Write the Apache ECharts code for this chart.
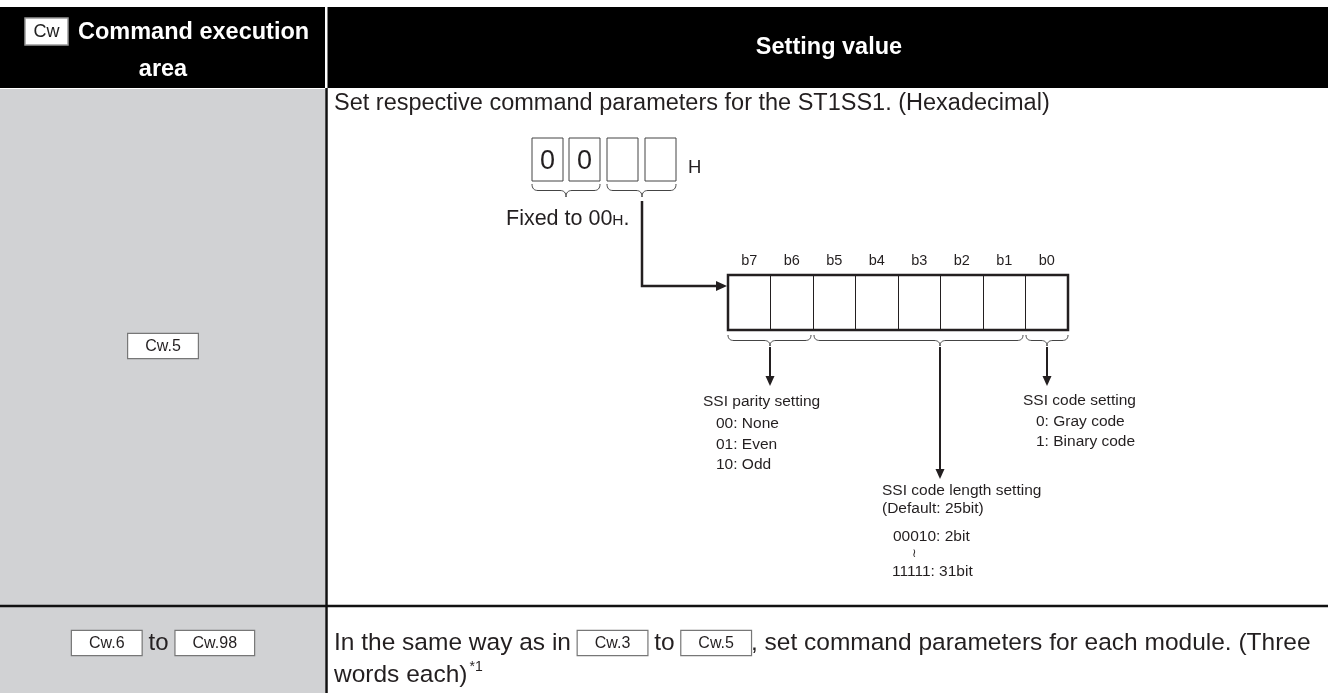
<!DOCTYPE html>
<html>
<head>
<meta charset="utf-8">
<script src="https://cdn.jsdelivr.net/npm/echarts@6/dist/echarts.min.js"></script>
<style>html,body{margin:0;padding:0;background:#fff}#c{width:1328px;height:693px}</style>
</head>
<body>
<div id="c"></div>
<script>
// ---- data ----
const headerLeft = ['Command execution', 'area'];
const headerRight = 'Setting value';
const headerTag = 'Cw';
const row1Label = 'Cw.5';
const row1Text = 'Set respective command parameters for the ST1SS1. (Hexadecimal)';
const hexDigits = ['0', '0', '', ''];
const hexSuffix = 'H';
const fixedNote = ['Fixed to 00', 'H', '.'];
const bitLabels = ['b7', 'b6', 'b5', 'b4', 'b3', 'b2', 'b1', 'b0'];
const parityTitle = 'SSI parity setting';
const parityOptions = ['00: None', '01: Even', '10: Odd'];
const codeTitle = 'SSI code setting';
const codeOptions = ['0: Gray code', '1: Binary code'];
const lengthTitle = ['SSI code length setting', '(Default: 25bit)'];
const lengthOptions = ['00010: 2bit', '\u2240', '11111: 31bit'];
const row2Labels = ['Cw.6', 'Cw.98'];
const row2Refs = ['Cw.3', 'Cw.5'];
const row2Text = ['In the same way as in ', ' to ', ', set command parameters for each module. (Three', 'words each)', '*1'];

// ---- drawing helpers ----
const FF = '"Liberation Sans", Arial, Helvetica, sans-serif';
const INK = '#231f20';
function txt(x, y, text, o) {
  o = o || {};
  return {
    type: 'text', x: x, y: y, z: o.z || 10,
    style: Object.assign({
      text: text, fill: o.fill || INK,
      fontSize: o.size || 15.5, fontFamily: FF, fontWeight: o.weight || 'normal',
      align: o.align || 'left', textAlign: o.align || 'left',
      verticalAlign: 'middle', textVerticalAlign: 'middle'
    }, o.rich ? { rich: o.rich } : {})
  };
}
function line(pts, w, color) {
  return { type: 'polyline', z: 8, shape: { points: pts }, style: { stroke: color || INK, lineWidth: w || 2, fill: null, lineJoin: 'miter' } };
}
function arrowDown(x, y1, y2) {
  return [line([[x, y1], [x, y2 - 8]], 2),
    { type: 'polygon', z: 9, shape: { points: [[x - 4.5, y2 - 10], [x + 4.5, y2 - 10], [x, y2]] }, style: { fill: INK } }];
}
function brace(x1, x2, tip, y, h) {
  const pts = [];
  const m = y + h / 2, r = Math.min(6, (tip - x1) / 3, (x2 - tip) / 3);
  function q(p0, p1, p2) {
    for (let i = 0; i <= 8; i++) {
      const t = i / 8;
      pts.push([(1 - t) * (1 - t) * p0[0] + 2 * (1 - t) * t * p1[0] + t * t * p2[0],
                (1 - t) * (1 - t) * p0[1] + 2 * (1 - t) * t * p1[1] + t * t * p2[1]]);
    }
  }
  q([x1, y], [x1, m], [x1 + r, m]);
  q([tip - r, m], [tip, m], [tip, y + h]);
  q([tip, y + h], [tip, m], [tip + r, m]);
  q([x2 - r, m], [x2, m], [x2, y]);
  return { type: 'polyline', z: 8, shape: { points: pts }, style: { stroke: '#444', lineWidth: 1, fill: null } };
}
const boxRich = {
  b: { fontSize: 16, fontFamily: FF, color: INK, borderColor: '#777', borderWidth: 1.2, backgroundColor: '#fff', padding: [5, 17, 3, 17] },
  t: { fontSize: 24, fontFamily: FF, color: INK, padding: [0, 7, 0, 7] },
  s: { fontSize: 24.5, fontFamily: FF, color: INK },
  sup: { fontSize: 14, fontFamily: FF, color: INK, padding: [0, 0, 16, 2] }
};

const els = [];
// table background
els.push({ type: 'rect', z: 1, shape: { x: 0, y: 7, width: 325, height: 81 }, style: { fill: '#000' } });
els.push({ type: 'rect', z: 1, shape: { x: 327.5, y: 7, width: 1001, height: 81 }, style: { fill: '#000' } });
els.push({ type: 'rect', z: 1, shape: { x: 0, y: 89, width: 325, height: 604 }, style: { fill: '#d1d2d4' } });
els.push(line([[326.5, 88], [326.5, 693]], 2.5, '#111'));
els.push(line([[0, 606], [1328, 606]], 2.5, '#111'));

// header
els.push({ type: 'rect', z: 5, shape: { x: 25, y: 18, width: 43, height: 27 }, style: { fill: '#fff', stroke: '#999', lineWidth: 1.5 } });
els.push(txt(46.5, 32, headerTag, { size: 18, align: 'center', fill: '#222' }));
els.push(txt(78, 33, headerLeft[0], { size: 23.5, weight: 'bold', fill: '#fff' }));
els.push(txt(163, 70, headerLeft[1], { size: 23.5, weight: 'bold', fill: '#fff', align: 'center' }));
els.push(txt(829, 48, headerRight, { size: 23.5, weight: 'bold', fill: '#fff', align: 'center' }));

// row 1
els.push(txt(163, 346, '{b|' + row1Label + '}', { align: 'center', rich: boxRich }));
els.push(txt(334, 104, row1Text, { size: 23.5 }));

// hex boxes
const hexX = [532, 569, 607, 645];
hexDigits.forEach(function (d, i) {
  els.push({ type: 'rect', z: 5, shape: { x: hexX[i], y: 138, width: 31, height: 43 }, style: { fill: '#fff', stroke: '#444', lineWidth: 1 } });
  if (d) els.push(txt(hexX[i] + 15.5, 162, d, { size: 27, align: 'center' }));
});
els.push(txt(688, 168, hexSuffix, { size: 18.5 }));
els.push(brace(532, 600, 566, 184, 13));
els.push(brace(607, 676, 642, 184, 13));
els.push(txt(506, 219, fixedNote[0] + '{sm|' + fixedNote[1] + '}' + fixedNote[2], { size: 21.5, rich: { sm: { fontSize: 15.5, fontFamily: FF, color: INK, padding: [4, 0, 0, 0] } } }));

// connector to register
els.push(line([[642, 201], [642, 286], [718, 286]], 2.5));
els.push({ type: 'polygon', z: 9, shape: { points: [[716, 281], [716, 291], [727, 286]] }, style: { fill: INK } });

// register braces and arrows
els.push(brace(728, 811, 770, 335, 11));
els.push(brace(814, 1023, 940, 335, 11));
els.push(brace(1026, 1068, 1047, 335, 11));
els.push.apply(els, arrowDown(770, 347, 386));
els.push.apply(els, arrowDown(940, 347, 479));
els.push.apply(els, arrowDown(1047, 347, 386));

// option texts
els.push(txt(703, 402, parityTitle));
parityOptions.forEach(function (s, i) { els.push(txt(716, 424 + i * 20.5, s)); });
els.push(txt(1023, 401, codeTitle));
codeOptions.forEach(function (s, i) { els.push(txt(1036, 422 + i * 19.5, s)); });
els.push(txt(882, 491, lengthTitle[0]));
els.push(txt(882, 509, lengthTitle[1]));
els.push(txt(893, 537, lengthOptions[0]));
els.push(txt(914, 554, lengthOptions[1], { size: 12, align: 'center' }));
els.push(txt(892, 572, lengthOptions[2]));

// row 2
els.push(txt(163, 643, '{b|' + row2Labels[0] + '}{t|to}{b|' + row2Labels[1] + '}', { align: 'center', rich: boxRich }));
els.push(txt(334, 643, '{s|' + row2Text[0] + '}{b|' + row2Refs[0] + '}{s|' + row2Text[1] + '}{b|' + row2Refs[1] + '}{s|' + row2Text[2] + '}', { rich: boxRich }));
els.push(txt(334, 675, '{s|' + row2Text[3] + '}{sup|' + row2Text[4] + '}', { rich: boxRich }));

const chart = echarts.init(document.getElementById('c'), null, { renderer: 'canvas' });
chart.setOption({
  animation: false,
  backgroundColor: '#fff',
  grid: { left: 728, top: 275, width: 340, height: 55, show: true, borderColor: INK, borderWidth: 2.5, backgroundColor: '#fff', z: 6 },
  xAxis: {
    type: 'category', data: bitLabels, position: 'top', z: 7,
    axisLine: { show: false }, axisTick: { show: false },
    axisLabel: { margin: 7, fontSize: 14.5, color: INK, fontFamily: FF },
    splitLine: { show: true, lineStyle: { color: INK, width: 1 } }
  },
  yAxis: { type: 'value', min: 0, max: 1, show: false },
  series: [],
  graphic: { elements: els }
});
</script>
</body>
</html>
